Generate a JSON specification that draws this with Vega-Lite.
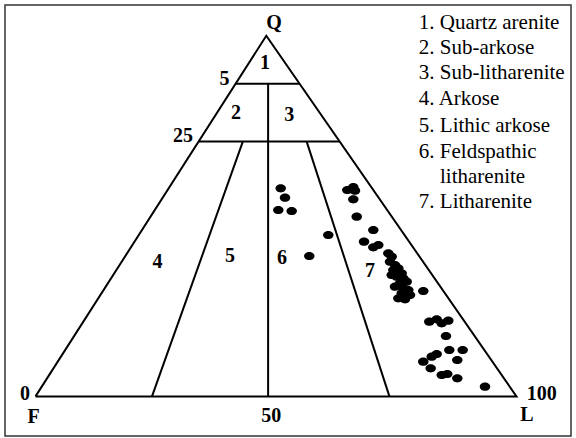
{
  "$schema": "https://vega.github.io/schema/vega-lite/v6.json",
  "width": 576,
  "height": 438,
  "autosize": {"type": "fit", "contains": "padding"},
  "padding": {"left": 5, "top": 5, "right": 5, "bottom": 2},
  "background": "white",
  "config": {"view": {"stroke": "#333333", "strokeWidth": 1.5}},
  "datasets": {
    "frame": [
      {"seg": "tri", "o": 1, "u": 0, "v": 0},
      {"seg": "tri", "o": 2, "u": 47.98, "v": 100},
      {"seg": "tri", "o": 3, "u": 100, "v": 0},
      {"seg": "tri", "o": 4, "u": 0, "v": 0}
    ],
    "lines": [
      {"u1": 41.59, "v1": 86.69, "u2": 54.9, "v2": 86.69},
      {"u1": 33.93, "v1": 70.72, "u2": 63.21, "v2": 70.72},
      {"u1": 48.36, "v1": 86.69, "u2": 48.36, "v2": 0},
      {"u1": 43.12, "v1": 70.72, "u2": 24.22, "v2": 0},
      {"u1": 56.36, "v1": 70.72, "u2": 73.58, "v2": 0}
    ],
    "samples": [
      {"u": 50.98, "v": 57.71}, {"u": 51.87, "v": 55.1}, {"u": 50.48, "v": 51.69}, {"u": 53.26, "v": 51.41},
      {"u": 60.87, "v": 44.76}, {"u": 56.92, "v": 38.93},
      {"u": 64.82, "v": 57.24}, {"u": 66.07, "v": 58.07}, {"u": 66.42, "v": 57.04}, {"u": 66.07, "v": 54.66},
      {"u": 66.78, "v": 49.83}, {"u": 70.23, "v": 46.14}, {"u": 68.3, "v": 42.9}, {"u": 70.23, "v": 41.35},
      {"u": 71.27, "v": 41.99}, {"u": 73.35, "v": 39.68}, {"u": 74.05, "v": 38.74}, {"u": 73.7, "v": 37.35},
      {"u": 74.74, "v": 36.44}, {"u": 74.39, "v": 35.05}, {"u": 75.43, "v": 35.52}, {"u": 76.13, "v": 34.14},
      {"u": 74.05, "v": 33.67}, {"u": 75.09, "v": 33.19}, {"u": 76.47, "v": 32.75}, {"u": 75.78, "v": 31.36},
      {"u": 77.17, "v": 31.81}, {"u": 74.74, "v": 30.42}, {"u": 76.47, "v": 29.98}, {"u": 77.51, "v": 29.51},
      {"u": 76.13, "v": 28.59}, {"u": 77.86, "v": 28.12}, {"u": 75.43, "v": 27.2}, {"u": 76.82, "v": 26.93},
      {"u": 80.62, "v": 29.23},
      {"u": 81.87, "v": 20.72}, {"u": 83.41, "v": 21.38}, {"u": 84.45, "v": 20.27}, {"u": 85.82, "v": 20.99},
      {"u": 85.34, "v": 16.75}, {"u": 86.03, "v": 12.87}, {"u": 88.81, "v": 12.87}, {"u": 87.69, "v": 10.09},
      {"u": 83.41, "v": 11.76}, {"u": 82.37, "v": 11.01}, {"u": 80.62, "v": 9.62}, {"u": 82.16, "v": 7.79},
      {"u": 84.45, "v": 5.93}, {"u": 85.61, "v": 6.21}, {"u": 87.69, "v": 5.02}, {"u": 93.45, "v": 2.69}
    ],
    "labels": [
      {"t": "Q", "u": 49.58, "v": 103.6},
      {"t": "1", "u": 47.71, "v": 92.37},
      {"t": "2", "u": 41.68, "v": 78.6},
      {"t": "3", "u": 52.77, "v": 78.0},
      {"t": "5", "u": 39.29, "v": 87.9},
      {"t": "25", "u": 30.67, "v": 72.2},
      {"t": "4", "u": 25.36, "v": 37.38},
      {"t": "5", "u": 40.44, "v": 38.93},
      {"t": "6", "u": 51.25, "v": 38.49},
      {"t": "7", "u": 69.54, "v": 34.64},
      {"t": "0", "u": -2.18, "v": 0.6},
      {"t": "100", "u": 105.24, "v": 0.6},
      {"t": "F", "u": -0.37, "v": -5.71},
      {"t": "50", "u": 49.02, "v": -5.44},
      {"t": "L", "u": 102.18, "v": -5.1}
    ],
    "legend": [
      {"t": "1. Quartz arenite", "u": 79.7, "v": 103.47},
      {"t": "2. Sub-arkose", "u": 79.7, "v": 96.53},
      {"t": "3. Sub-litharenite", "u": 79.7, "v": 89.6},
      {"t": "4. Arkose", "u": 79.7, "v": 82.39},
      {"t": "5. Lithic arkose", "u": 79.7, "v": 75.07},
      {"t": "6. Feldspathic", "u": 79.7, "v": 67.86},
      {"t": "litharenite", "u": 84.1, "v": 60.93},
      {"t": "7. Litharenite", "u": 79.7, "v": 53.99}
    ]
  },
  "layer": [
    {
      "data": {"name": "frame"},
      "mark": {"type": "line", "color": "black", "strokeWidth": 2, "strokeJoin": "miter"},
      "encoding": {
        "x": {"field": "u", "type": "quantitative", "scale": {"domain": [-6.34, 111.33], "nice": false, "zero": false}, "axis": null},
        "y": {"field": "v", "type": "quantitative", "scale": {"domain": [-10.98, 108.54], "nice": false, "zero": false}, "axis": null},
        "order": {"field": "o"}
      }
    },
    {
      "data": {"name": "lines"},
      "mark": {"type": "rule", "color": "black", "strokeWidth": 2},
      "encoding": {
        "x": {"field": "u1", "type": "quantitative"},
        "y": {"field": "v1", "type": "quantitative"},
        "x2": {"field": "u2"},
        "y2": {"field": "v2"}
      }
    },
    {
      "data": {"name": "samples"},
      "mark": {"type": "point", "filled": true, "color": "black", "opacity": 1, "size": 110, "shape": "M -1 0 A 1 0.78 0 1 0 1 0 A 1 0.78 0 1 0 -1 0 Z"},
      "encoding": {
        "x": {"field": "u", "type": "quantitative"},
        "y": {"field": "v", "type": "quantitative"}
      }
    },
    {
      "data": {"name": "labels"},
      "mark": {"type": "text", "font": "Liberation Serif", "fontWeight": "bold", "fontSize": 20, "align": "center", "baseline": "middle", "color": "black"},
      "encoding": {
        "x": {"field": "u", "type": "quantitative"},
        "y": {"field": "v", "type": "quantitative"},
        "text": {"field": "t"}
      }
    },
    {
      "data": {"name": "legend"},
      "mark": {"type": "text", "font": "Liberation Serif", "fontSize": 21, "align": "left", "baseline": "middle", "color": "black"},
      "encoding": {
        "x": {"field": "u", "type": "quantitative"},
        "y": {"field": "v", "type": "quantitative"},
        "text": {"field": "t"}
      }
    }
  ]
}
